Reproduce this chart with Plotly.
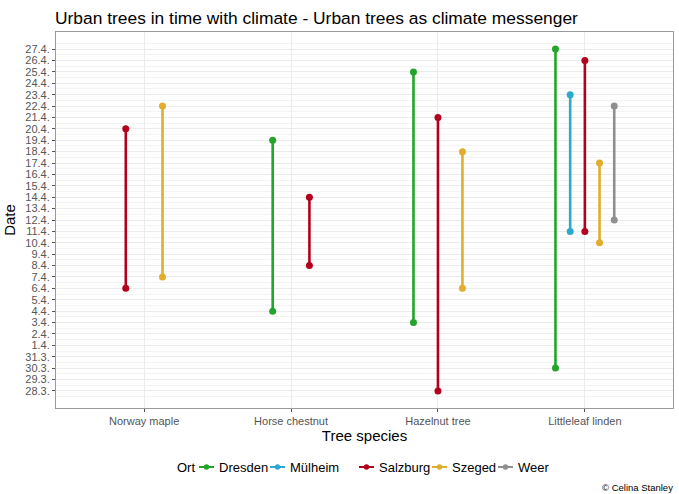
import plotly.graph_objects as go
from datetime import date

species = ["Norway maple", "Horse chestnut", "Hazelnut tree", "Littleleaf linden"]
cities = ["Dresden", "Mülheim", "Salzburg", "Szeged", "Weer"]
colors = {"Dresden": "#22a52a", "Mülheim": "#2aa9d2", "Salzburg": "#b5001d",
          "Szeged": "#e0ad2c", "Weer": "#8f8f8f"}

# y-axis tick labels (day.month.)
date_ticks = ["28.3.", "29.3.", "30.3.", "31.3.", "1.4.", "2.4.", "3.4.", "4.4.", "5.4.",
              "6.4.", "7.4.", "8.4.", "9.4.", "10.4.", "11.4.", "12.4.", "13.4.", "14.4.",
              "15.4.", "16.4.", "17.4.", "18.4.", "19.4.", "20.4.", "21.4.", "22.4.",
              "23.4.", "24.4.", "25.4.", "26.4.", "27.4."]

# flowering periods: species, city, start, end
rec_species = ["Norway maple", "Norway maple",
               "Horse chestnut", "Horse chestnut",
               "Hazelnut tree", "Hazelnut tree", "Hazelnut tree",
               "Littleleaf linden", "Littleleaf linden", "Littleleaf linden",
               "Littleleaf linden", "Littleleaf linden"]
rec_city = ["Salzburg", "Szeged",
            "Dresden", "Salzburg",
            "Dresden", "Salzburg", "Szeged",
            "Dresden", "Mülheim", "Salzburg", "Szeged", "Weer"]
rec_start = ["6.4.", "7.4.",
             "4.4.", "8.4.",
             "3.4.", "28.3.", "6.4.",
             "30.3.", "11.4.", "11.4.", "10.4.", "12.4."]
rec_end = ["20.4.", "22.4.",
           "19.4.", "14.4.",
           "25.4.", "21.4.", "18.4.",
           "27.4.", "23.4.", "26.4.", "17.4.", "22.4."]

YEAR = 2021
def to_date(s):
    d, m = s.strip(".").split(".")
    return date(YEAR, int(m), int(d))

N = len(rec_species)
# ggplot-style dodge (width 0.5) among the cities present for each species
def xpos(k):
    sp = rec_species[k]
    present = [c for c in cities if any(rec_species[j] == sp and rec_city[j] == c for j in range(N))]
    n = len(present)
    i = present.index(rec_city[k])
    return species.index(sp) + 1 - 0.25 + 0.5 / n * (i + 0.5)

fig = go.Figure()
for c in cities:
    xs, ys = [], []
    for k in range(N):
        if rec_city[k] != c:
            continue
        x = xpos(k)
        xs += [x, x, None]
        ys += [to_date(rec_start[k]), to_date(rec_end[k]), None]
    fig.add_trace(go.Scatter(
        x=xs, y=ys, mode="lines+markers", name=c, showlegend=False,
        line=dict(color=colors[c], width=2.6),
        marker=dict(color=colors[c], size=7),
    ))

# layout geometry (pixels)
W, H = 679, 494
L, R, T, B = 56, 6, 32, 86
pw, ph = W - L - R, H - T - B
def px(x):
    return (x - L) / pw
def py(y):
    return (H - B - y) / ph

# custom compact legend
shapes, annotations = [], []
leg_y = 467
annotations.append(dict(text="Ort", xref="paper", yref="paper", x=px(175), y=py(leg_y),
                        xanchor="left", yanchor="middle", showarrow=False,
                        font=dict(size=13, color="black")))
sym_left = [199, 270, 359, 432, 498]
for c, sx in zip(cities, sym_left):
    shapes.append(dict(type="line", xref="paper", yref="paper",
                       x0=px(sx), x1=px(sx + 15), y0=py(leg_y), y1=py(leg_y),
                       line=dict(color=colors[c], width=2)))
    shapes.append(dict(type="circle", xref="paper", yref="paper",
                       x0=px(sx + 7.5 - 2.7), x1=px(sx + 7.5 + 2.7),
                       y0=py(leg_y - 2.7), y1=py(leg_y + 2.7),
                       fillcolor=colors[c], line=dict(width=0)))
    annotations.append(dict(text=c, xref="paper", yref="paper", x=px(sx + 18), y=py(leg_y),
                            xanchor="left", yanchor="middle", showarrow=False,
                            font=dict(size=13, color="black")))

annotations.append(dict(text="© Celina Stanley", xref="paper", yref="paper",
                        x=px(675), y=py(487), xanchor="right", yanchor="middle",
                        showarrow=False, font=dict(size=9.5, color="black")))

grid = "#ebebeb"
fig.update_layout(
    width=W, height=H,
    margin=dict(l=L, r=R, t=T, b=B, autoexpand=False),
    paper_bgcolor="white", plot_bgcolor="white",
    font=dict(family="Liberation Sans, Arial, sans-serif", color="black"),
    title=dict(text="Urban trees in time with climate - Urban trees as climate messenger",
               x=55 / W, xanchor="left", y=1 - 18 / H, yanchor="middle",
               font=dict(size=17.4, color="black")),
    showlegend=False,
    shapes=shapes, annotations=annotations,
    xaxis=dict(range=[0.4, 4.6], tickmode="array", tickvals=[1, 2, 3, 4], ticktext=species,
               showgrid=True, gridcolor=grid, gridwidth=1, zeroline=False,
               showline=True, mirror=True, linecolor="#9a9a9a", linewidth=1,
               ticks="outside", ticklen=3, tickcolor="#555555",
               tickfont=dict(size=11, color="#555555"), automargin=False,
               title=dict(text="Tree species", font=dict(size=15), standoff=4)),
    yaxis=dict(type="date", range=["%d-03-26 12:00" % YEAR, "%d-04-28 12:00" % YEAR],
               tickmode="array", tickvals=[to_date(t) for t in date_ticks], ticktext=date_ticks,
               showgrid=True, gridcolor=grid, gridwidth=1, zeroline=False,
               showline=True, mirror=True, linecolor="#9a9a9a", linewidth=1,
               ticks="outside", ticklen=3, tickcolor="#555555",
               tickfont=dict(size=11, color="#555555"), automargin=False,
               minor=dict(tickmode="linear", tick0="%d-03-28 12:00" % YEAR, dtick=86400000,
                          showgrid=True, gridcolor="#f3f3f3", gridwidth=0.6, ticks=""),
               title=dict(text="Date", font=dict(size=15), standoff=6)),
)

fig.write_html("out.html", config={"displayModeBar": False},
               post_script="document.body.style.margin='0';")
